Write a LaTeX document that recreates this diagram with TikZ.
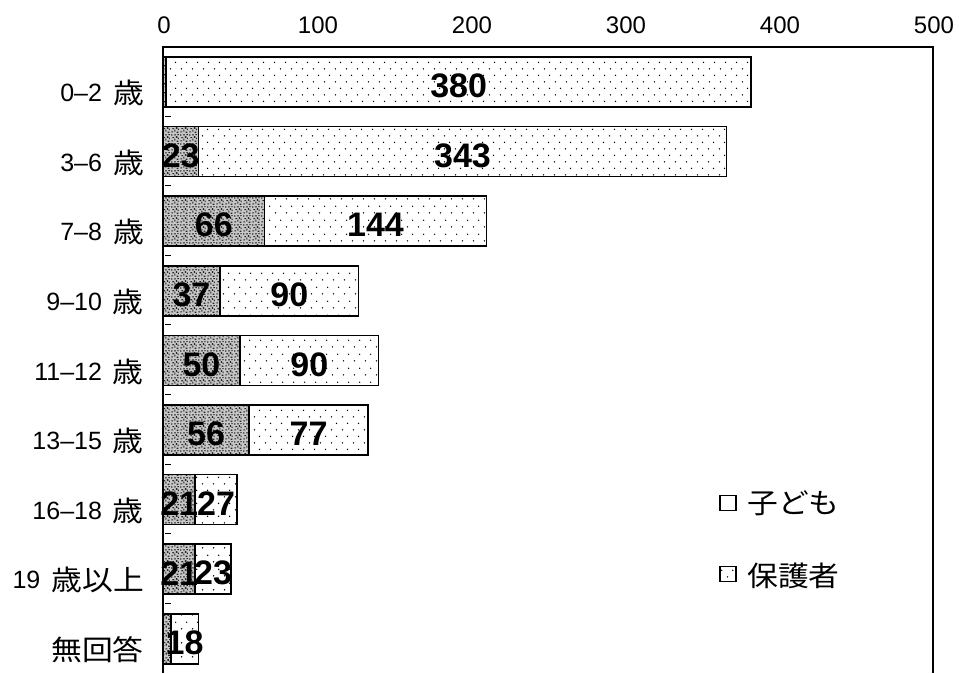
\documentclass[tikz,border=0pt]{standalone}
\usepackage{fontspec}
\setmainfont{Liberation Sans}
\newfontfamily\jpfont{Noto Sans CJK JP}
\usetikzlibrary{patterns}
\pgfdeclarepatternformonly{sparsedots}{\pgfpointorigin}{\pgfqpoint{10.5pt}{13.4pt}}{\pgfqpoint{10.5pt}{13.4pt}}{%
  \pgfpathcircle{\pgfqpoint{2.6pt}{3.3pt}}{0.8pt}%
  \pgfpathcircle{\pgfqpoint{7.9pt}{10.0pt}}{0.8pt}%
  \pgfusepath{fill}}
\pgfdeclarepatternformonly{speckle}{\pgfpointorigin}{\pgfqpoint{9pt}{9pt}}{\pgfqpoint{9pt}{9pt}}{%
  \pgfpathrectangle{\pgfqpoint{0.3pt}{0.6pt}}{\pgfqpoint{2.0pt}{1.2pt}}%
  \pgfpathrectangle{\pgfqpoint{3.6pt}{1.4pt}}{\pgfqpoint{1.2pt}{2.2pt}}%
  \pgfpathrectangle{\pgfqpoint{6.2pt}{0.2pt}}{\pgfqpoint{1.8pt}{1.3pt}}%
  \pgfpathrectangle{\pgfqpoint{1.4pt}{4.1pt}}{\pgfqpoint{2.0pt}{1.2pt}}%
  \pgfpathrectangle{\pgfqpoint{5.4pt}{4.6pt}}{\pgfqpoint{1.4pt}{1.8pt}}%
  \pgfpathrectangle{\pgfqpoint{0.2pt}{7.0pt}}{\pgfqpoint{1.3pt}{1.3pt}}%
  \pgfpathrectangle{\pgfqpoint{3.3pt}{7.2pt}}{\pgfqpoint{2.0pt}{1.1pt}}%
  \pgfpathrectangle{\pgfqpoint{7.4pt}{3.1pt}}{\pgfqpoint{1.1pt}{1.6pt}}%
  \pgfpathrectangle{\pgfqpoint{7.0pt}{7.4pt}}{\pgfqpoint{1.5pt}{1.2pt}}%
  \pgfusepath{fill}}
\newcommand\mjp[1]{\raisebox{-2pt}{\scalebox{1.1}[1]{\jpfont\fontsize{28}{30}\selectfont #1}}}
\begin{document}
\begin{tikzpicture}[x=1pt,y=-1pt,
  barbox/.style={draw=black, line width=1.7pt},
  kidbar/.style={barbox, preaction={fill=black!22}, pattern=speckle, pattern color=black!85},
  parbar/.style={barbox, pattern=sparsedots, pattern color=black},
  valtxt/.style={font=\bfseries\fontsize{34}{34}\selectfont, inner sep=0pt},
  cattxt/.style={font=\fontsize{25}{27}\selectfont, anchor=east, inner sep=0pt},
  ticktxt/.style={font=\fontsize{24}{26}\selectfont, inner sep=0pt},
  legbox/.style={draw=black, line width=1.4pt, minimum width=16pt, minimum height=15pt, inner sep=0pt},
  legtxt/.style={anchor=west, inner sep=0pt}]
\useasboundingbox (0,0) rectangle (959,673);
\fill[white] (0,0) rectangle (959,673);
% frame
\draw[line width=1.7pt] (163,673) -- (163,47) -- (933,47) -- (933,673);
% tick labels
\foreach \k/\t in {0/0,1/100,2/200,3/300,4/400,5/500}
  \node[ticktxt] (t\k) at (164+154*\k,25) {\t};
% small marks
\foreach \k in {0,...,7}
  \draw[line width=1pt] (165,116+69.6*\k) -- (171,116+69.6*\k);
% bars
\foreach \i/\c/\p/\cl/\pl in {0/2/380//380,1/23/343/23/343,2/66/144/66/144,3/37/90/37/90,4/50/90/50/90,5/56/77/56/77,6/21/27/21/27,7/21/23/21/23,8/5/18//18}{
  \pgfmathsetmacro\ya{57+69.6*\i}
  \pgfmathsetmacro\yb{\ya+50}
  \pgfmathsetmacro\ym{\ya+29}
  \pgfmathsetmacro\xa{163+1.54*\c}
  \pgfmathsetmacro\xb{\xa+1.54*\p}
  \draw[kidbar] (163,\ya) rectangle (\xa,\yb);
  \draw[parbar] (\xa,\ya) rectangle (\xb,\yb);
  \node[valtxt] (kv\i) at ({(163+\xa)/2},\ym) {\cl};
  \node[valtxt] (pv\i) at ({(\xa+\xb)/2},\ym) {\pl};
}
% category labels
\foreach \i/\l in {0/{0–2\hspace{11pt}\mjp{歳}},1/{3–6\hspace{11pt}\mjp{歳}},2/{7–8\hspace{11pt}\mjp{歳}},3/{9–10\hspace{11pt}\mjp{歳}},4/{11–12\hspace{11pt}\mjp{歳}},5/{13–15\hspace{11pt}\mjp{歳}},6/{16–18\hspace{11pt}\mjp{歳}},7/{19\hspace{11pt}\mjp{歳以上}},8/{\mjp{無回答}}}
  \node[cattxt] (c\i) at (144,93+69.6*\i) {\l};
% legend
\node[legbox] (lk) at (728,503) {};
\node[legtxt] (lkt) at (747,503) {\mjp{子ども}};
\node[legbox, pattern=sparsedots, pattern color=black] (lp) at (728,574) {};
\node[legtxt] (lpt) at (747,576) {\mjp{保護者}};
\end{tikzpicture}
\end{document}
